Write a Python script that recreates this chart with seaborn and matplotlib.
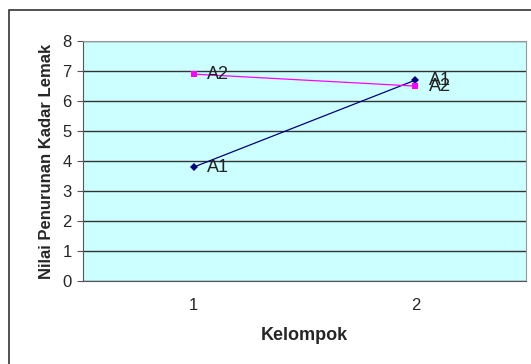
import pandas as pd
import seaborn as sns
import matplotlib.pyplot as plt
from matplotlib.patches import Rectangle

# data
kelompok = [1, 2]
a1 = [3.8, 6.7]
a2 = [6.9, 6.5]
series = ['A1', 'A2']

df = pd.DataFrame({
    'Kelompok': kelompok * 2,
    'Nilai': a1 + a2,
    'Seri': ['A1'] * 2 + ['A2'] * 2,
})

sns.set_style('white')
plt.rcParams['font.family'] = ['Liberation Sans', 'DejaVu Sans']

fig = plt.figure(figsize=(5.31, 3.64), dpi=100)
# outer chart border
fig.patches.append(Rectangle((9 / 531, -0.05), 1.0, 0.9 + 0.05 + 0.073, transform=fig.transFigure,
                             fill=False, edgecolor='#333333', linewidth=1.2))
ax = fig.add_axes([0.156, 0.228, 0.835, 0.659])
ax.set_facecolor('#ccffff')

colors = {'A1': '#000080', 'A2': '#ff00ff'}
markers = {'A1': 'D', 'A2': 's'}
sizes = {'A1': 4, 'A2': 5}
for s in series:
    sub = df[df['Seri'] == s]
    sns.lineplot(data=sub, x='Kelompok', y='Nilai', ax=ax, color=colors[s], marker=markers[s],
                 markersize=sizes[s], markeredgewidth=0, linewidth=0.9, legend=False)
    for xv, yv in zip(sub['Kelompok'], sub['Nilai']):
        ax.text(xv + 0.06, yv, s, va='center', ha='left', fontsize=13, color='#222222')

ax.set_xlim(0.5, 2.5)
ax.set_ylim(0, 8)
ax.set_yticks(range(0, 9))
ax.set_xticks([1, 2])
ax.set_xticks([0.5, 1.5, 2.5], minor=True)
ax.tick_params(axis='x', which='major', length=0, pad=12, labelsize=12)
ax.tick_params(axis='x', which='minor', length=4, color='#555555')
ax.tick_params(axis='y', length=4, color='#555555', labelsize=12, pad=4, left=True)
ax.grid(axis='y', color='#333333', linewidth=1.0)
ax.set_axisbelow(True)
for side in ['top', 'right']:
    ax.spines[side].set_color('#999999')
for side in ['left', 'bottom']:
    ax.spines[side].set_color('#555555')
ax.set_xlabel('Kelompok', fontsize=13, fontweight='bold', labelpad=10)
ax.set_ylabel('Nilai Penurunan Kadar Lemak', fontsize=12, fontweight='bold', labelpad=6)

fig.savefig('out.png', dpi=100)
